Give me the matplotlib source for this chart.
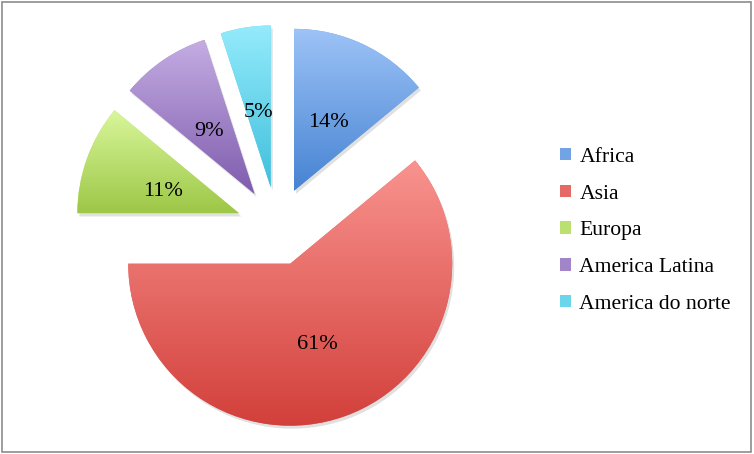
import matplotlib
matplotlib.use("Agg")
import matplotlib.pyplot as plt
from matplotlib.colors import LinearSegmentedColormap, to_rgb
from matplotlib.patches import Rectangle, Wedge
import numpy as np

regions = ["Africa", "Asia", "Europa", "America Latina", "America do norte"]
shares = [14, 61, 11, 9, 5]
tops = ["#9dc3f7", "#f9938f", "#d9f79b", "#c5ade3", "#94ebfb"]
bottoms = ["#4683d2", "#d23f3a", "#9dc747", "#7e5cad", "#41bfdc"]
explode = [40, 39, 40, 40, 40]

W, H = 754, 454
FONT = ["Liberation Serif", "DejaVu Serif"]
fig = plt.figure(figsize=(W / 100, H / 100), dpi=100, facecolor="white")
ax = fig.add_axes([0, 0, 1, 1])
mids = [tuple((np.array(to_rgb(t)) + np.array(to_rgb(b))) / 2) for t, b in zip(tops, bottoms)]
wedges, texts, pcts = ax.pie(shares, explode=explode, startangle=90, counterclock=False, radius=162,
                             center=(277, H - 227), colors=mids, autopct="%.0f%%", pctdistance=0.5,
                             textprops=dict(family=FONT, size=16, color="black"),
                             wedgeprops=dict(linewidth=0), frame=True)
ax.set_xlim(0, W); ax.set_ylim(0, H); ax.axis("off")

# vertical gradient (light top -> dark bottom) clipped to each wedge, plus a soft shadow
grad = np.linspace(0, 1, 256).reshape(-1, 1)
for w, t, b in zip(wedges, tops, bottoms):
    v = w.get_patch_transform().transform(w.get_path().vertices)
    x0, y0 = v.min(axis=0); x1, y1 = v.max(axis=0)
    sh = Wedge((w.center[0] + 2, w.center[1] - 3), w.r, w.theta1, w.theta2, fc="#000000", alpha=0.12, lw=0, zorder=0.5)
    ax.add_patch(sh)
    cm = LinearSegmentedColormap.from_list("g", [b, t])
    im = ax.imshow(grad, cmap=cm, extent=(x0, x1, y0, y1), origin="lower", aspect="auto", zorder=1.5,
                   interpolation="bilinear")
    im.set_clip_path(w)
for p in pcts:
    px, py = p.get_position(); p.set_position((px, py - 5)); p.set_zorder(3)
ax.set_xlim(0, W); ax.set_ylim(0, H)

ax.legend(wedges, regions, loc="center left", bbox_to_anchor=(0.7427, 0.4915), frameon=False,
          prop=dict(family=FONT, size=15.6), handlelength=0.5, handleheight=0.5, handletextpad=0.4,
          labelspacing=0.82, borderpad=0, borderaxespad=0)

fig.patches.append(Rectangle((0.003, 0.005), 0.993, 0.99, transform=fig.transFigure, fill=False,
                             ec="#8c8c8c", lw=1.2))
fig.savefig("out.png", dpi=100, facecolor="white")
